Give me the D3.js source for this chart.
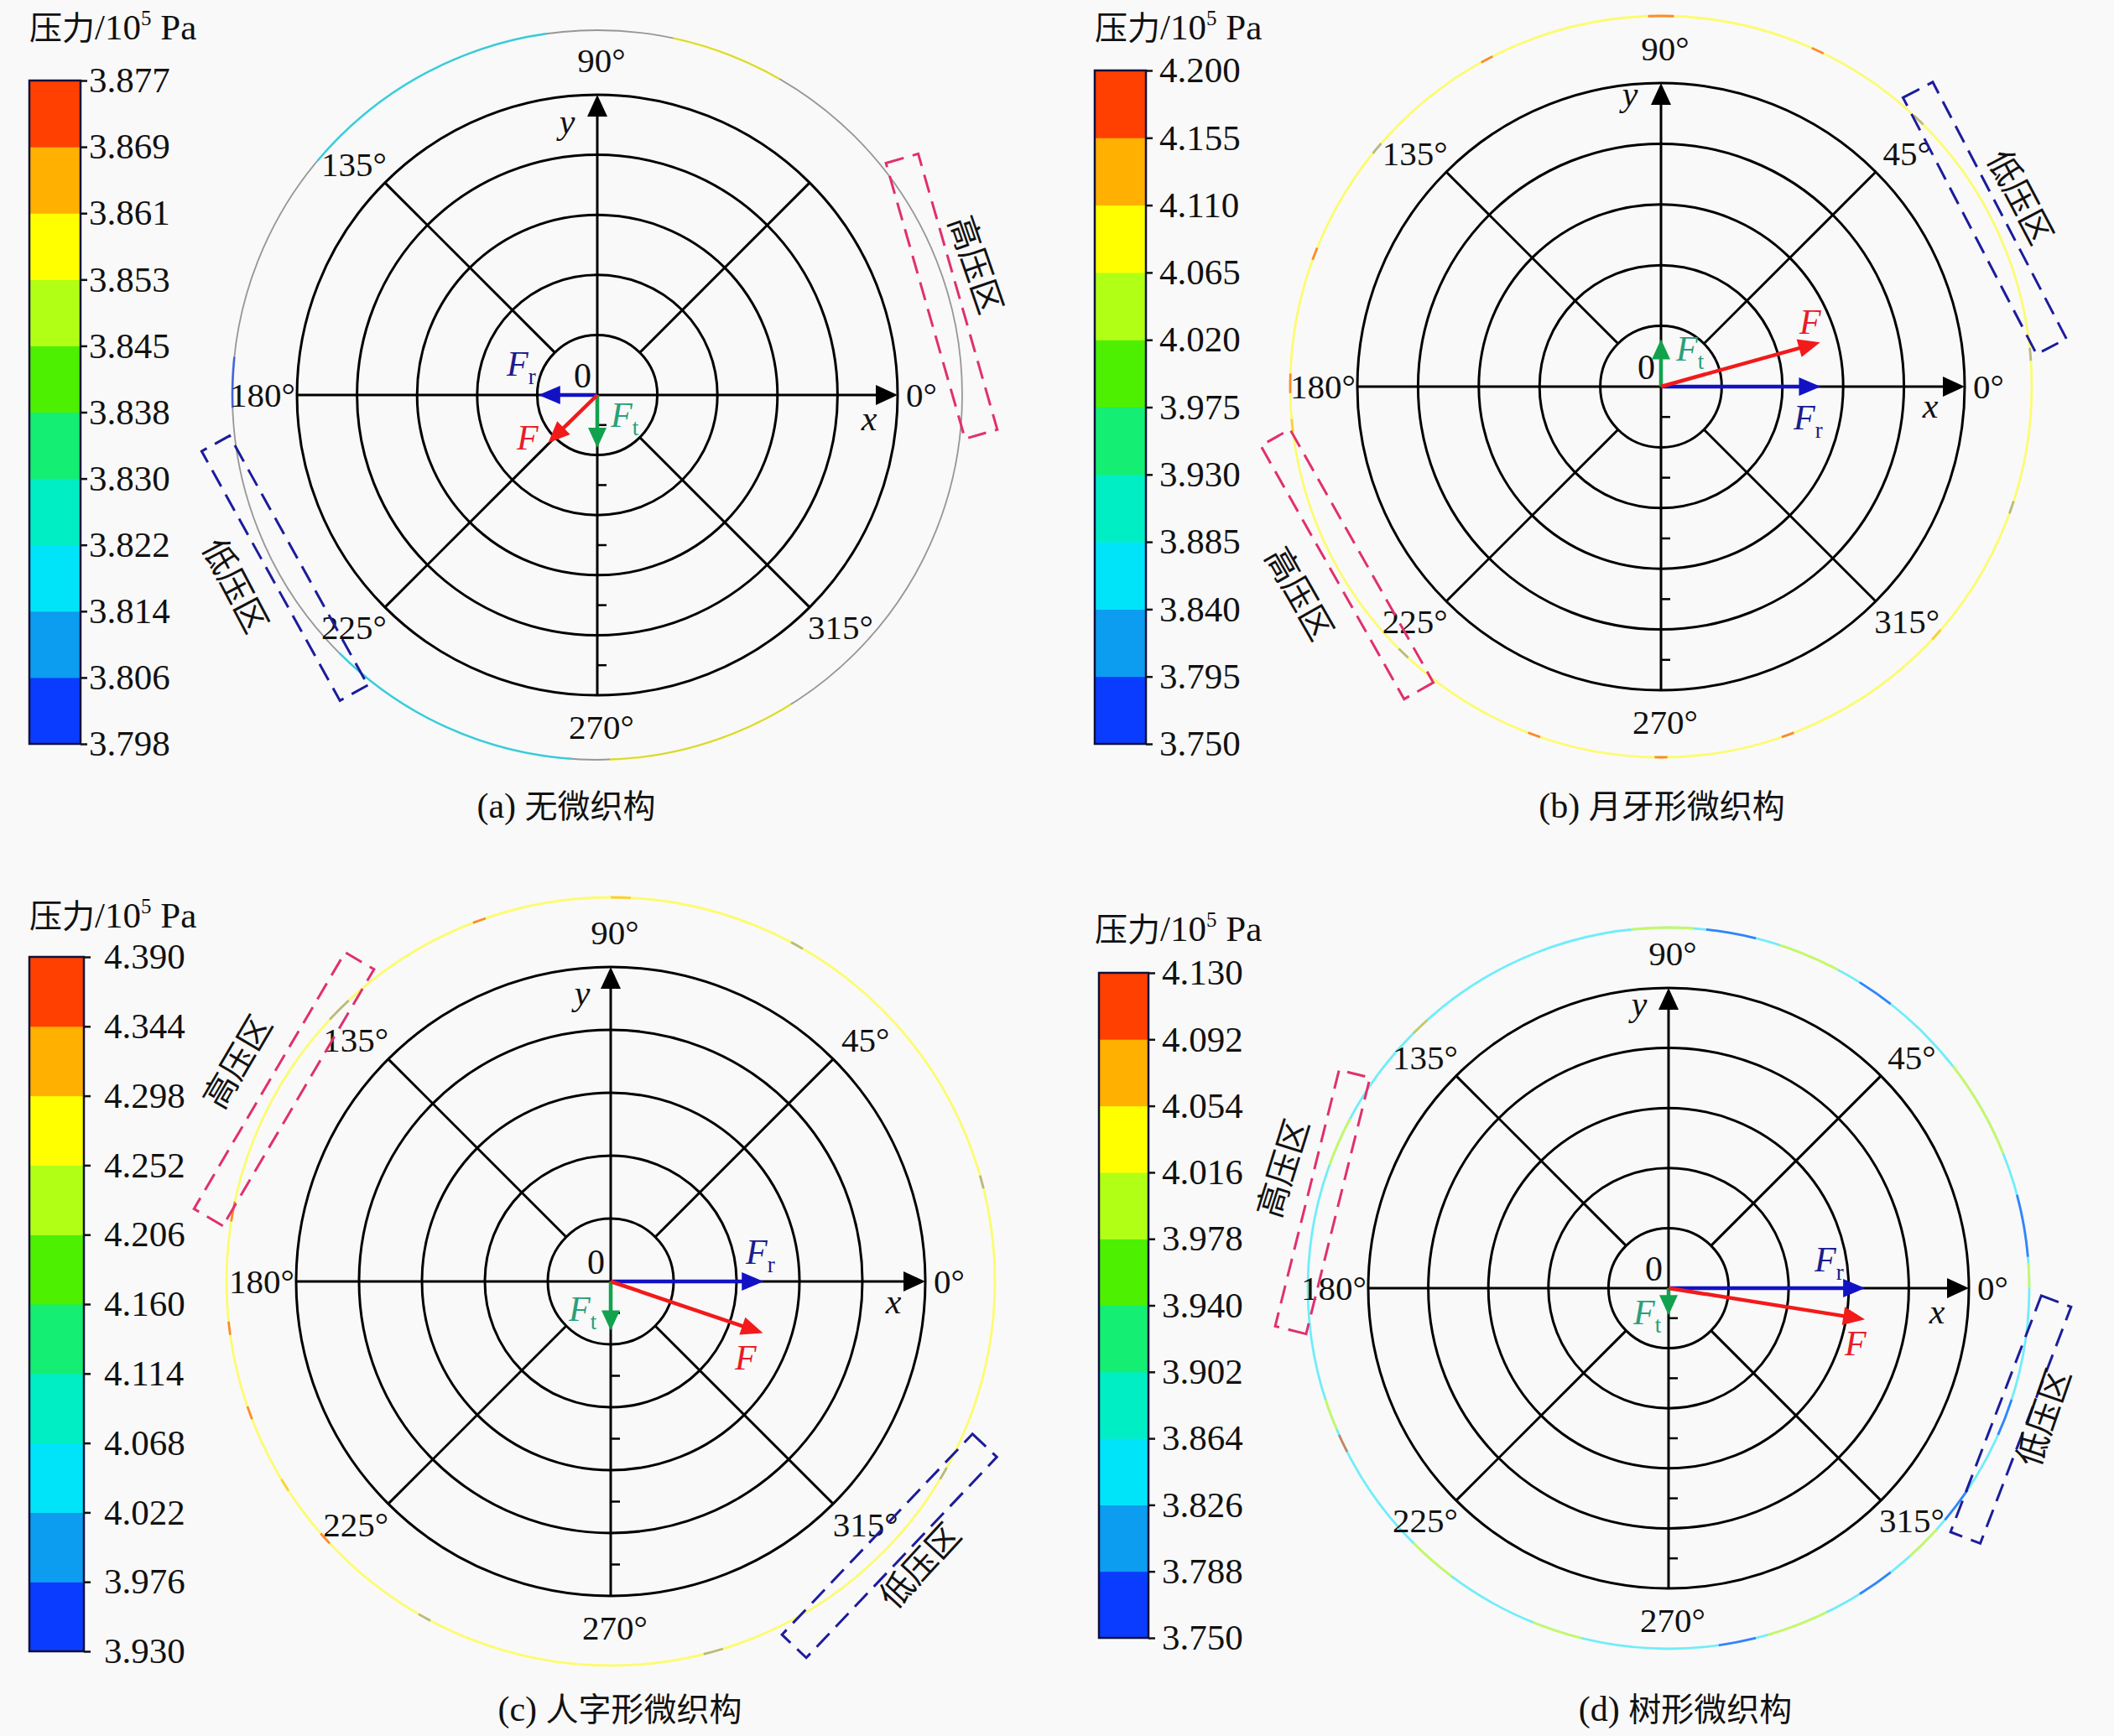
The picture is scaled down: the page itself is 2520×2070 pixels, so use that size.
<!DOCTYPE html>
<html>
<head>
<meta charset="utf-8">
<script src="https://cdn.jsdelivr.net/npm/d3@7"></script>
<style>
body { margin: 0; background: #f9f9f9; }
svg { display: block; }
</style>
</head>
<body>
<svg id="chart" width="2520" height="2070"></svg>
<script>
// colour bands of the pressure scale, lowest to highest
const bandColors = ["#0a3cff", "#0c9cf0", "#00e4fa", "#00eec4", "#14ee72", "#4cf000", "#b2ff16", "#ffff00", "#ffb000", "#ff4000"];

// colour bar labels (bottom -> top)
const ticksA = ["3.798", "3.806", "3.814", "3.822", "3.830", "3.838", "3.845", "3.853", "3.861", "3.869", "3.877"];
const ticksB = ["3.750", "3.795", "3.840", "3.885", "3.930", "3.975", "4.020", "4.065", "4.110", "4.155", "4.200"];
const ticksC = ["3.930", "3.976", "4.022", "4.068", "4.114", "4.160", "4.206", "4.252", "4.298", "4.344", "4.390"];
const ticksD = ["3.750", "3.788", "3.826", "3.864", "3.902", "3.940", "3.978", "4.016", "4.054", "4.092", "4.130"];

const captions = ["(a) 无微织构", "(b) 月牙形微织构", "(c) 人字形微织构", "(d) 树形微织构"];

// force vectors in grid-ring units (x, y), one entry per panel
const vecF  = [[-0.82, -0.80], [2.62, 0.73], [2.42, -0.82], [3.27, -0.52]];
const vecFr = [[-0.98, 0], [2.63, 0], [2.43, 0], [3.27, 0]];
const vecFt = [[0, -0.88], [0, 0.78], [0, -0.78], [0, -0.45]];

// angle labels
const angles = [0, 45, 90, 135, 180, 225, 270, 315];

// pressure ring along the rim: base colour index, then [fromDeg, toDeg, colourIndex] (-1 = grey)
const ringBase = [-1, 7, 7, 2];
const ringA = [[60, 78, 7], [98, 140, 2], [174, 182, 0], [225, 266, 2], [272, 302, 7]];
const ringB = [[4, 6, -1], [45, 47, -1], [64, 66, 9], [88, 92, 9], [117, 119, 9], [139, 141, -1], [158, 160, 9],
  [178, 181, 9], [185, 187, 8], [225, 227, -1], [249, 251, 9], [269, 271, 9], [289, 291, 9], [317, 319, 8], [340, 342, -1]];
const ringC = [[14, 16, -1], [60, 62, -1], [87, 90, 8], [109, 111, 9], [133, 137, -1], [168, 171, 9], [186, 188, 9],
  [199, 201, 9], [211, 213, 8], [221, 223, 9], [240, 242, -1], [284, 287, -1], [329, 331, -1]];
const ringD = [[0, 4, 7], [5, 15, 0], [22, 38, 7], [52, 58, 0], [62, 72, 7], [76, 84, 0], [86, 96, 7], [132, 135, 8],
  [152, 160, 7], [198, 203, 7], [204, 207, 9], [225, 233, 7], [248, 256, 7], [278, 284, 0], [286, 296, 7],
  [302, 308, 0], [312, 318, 7], [320, 326, 0], [336, 342, 0]];

// marked pressure zones: [angleDeg, text, kind]
const zonesA = [[16, "高压区", "high"], [209, "低压区", "low"]];
const zonesB = [[27.5, "低压区", "low"], [209.5, "高压区", "high"]];
const zonesC = [[149.5, "高压区", "high"], [316.5, "低压区", "low"]];
const zonesD = [[166, "高压区", "high"], [339, "低压区", "low"]];

const serif = "'Liberation Serif', 'Times New Roman', serif";
const cjk = "'Liberation Serif', 'Noto Sans CJK SC', serif";

const panels = [
  { ticks: ticksA, ring: ringA, zones: zonesA, cx: 712, cy: 471, r5: 358, ringR: 435, hide: [45],
    bar: { x: 35, w: 61, top: 96, bottom: 887, pad: 2 }, title: [35, 47], cap: [675, 975],
    box: [[427, 342, 40, 480, 19], [426, 340, 38, 485, 207.8]],
    lab: { y: [-36, -312], x: [324, 42], F: [-96, 65], Fr: [-108, -23], Ft: [16, 38] } },
  { ticks: ticksB, ring: ringB, zones: zonesB, cx: 1980, cy: 461, r5: 362, ringR: 442, hide: [],
    bar: { x: 1305, w: 61, top: 84, bottom: 887, pad: 8 }, title: [1305, 47], cap: [1981, 975],
    box: [[435, 345, 40, 487, 27.8], [430, 347, 40, 494, 209.8]],
    lab: { y: [-37, -335], x: [321, 37], F: [165, -63], Fr: [158, 51], Ft: [18, -31] } },
  { ticks: ticksC, ring: ringC, zones: zonesC, cx: 728, cy: 1528, r5: 375, ringR: 458, hide: [],
    bar: { x: 35, w: 65, top: 1141, bottom: 1969, pad: 16 }, title: [35, 1106], cap: [739, 2052],
    box: [[452, 355, 40, 519, 149.5], [458, 330, 40, 498, 317.4]],
    lab: { y: [-34, -330], x: [337, 38], F: [148, 105], Fr: [161, -21], Ft: [-50, 47] } },
  { ticks: ticksD, ring: ringD, zones: zonesD, cx: 1989, cy: 1536, r5: 358, ringR: 430, hide: [],
    bar: { x: 1310, w: 59, top: 1160, bottom: 1953, pad: 8 }, title: [1305, 1122], cap: [2009, 2052],
    box: [[425, 315, 38, 484, 162.7], [437, 302, 38, 470, 341]],
    lab: { y: [-35, -325], x: [320, 42], F: [210, 80], Fr: [174, -20], Ft: [-42, 43] } }
];

const svg = d3.select("#chart");
svg.append("rect").attr("width", 2520).attr("height", 2070).attr("fill", "#f9f9f9");

function colorOf(k) {
  return k < 0 ? "#8c8c8c" : bandColors[k];
}

function arrow(sel, x1, y1, x2, y2, color, w, hl, hw) {
  let a = Math.atan2(y2 - y1, x2 - x1);
  let bx = x2 - hl * Math.cos(a), by = y2 - hl * Math.sin(a);
  sel.append("line")
    .attr("x1", x1).attr("y1", y1)
    .attr("x2", bx + 3 * Math.cos(a)).attr("y2", by + 3 * Math.sin(a))
    .attr("stroke", color).attr("stroke-width", w);
  let px = -Math.sin(a) * hw / 2, py = Math.cos(a) * hw / 2;
  sel.append("path")
    .attr("d", "M" + x2 + "," + y2 + "L" + (bx + px) + "," + (by + py) + "L" + (bx - px) + "," + (by - py) + "Z")
    .attr("fill", color);
}

function forceLabel(sel, pos, sub, color) {
  let t = sel.append("text").attr("x", pos[0]).attr("y", pos[1])
    .attr("font-family", serif).attr("font-size", 42).attr("fill", color);
  t.append("tspan").attr("font-style", "italic").text("F");
  if (sub) {
    t.append("tspan").attr("font-size", 27).attr("dy", 10).text(sub);
  }
}

function drawPanel(p, i) {
  let g = svg.append("g");

  // colour bar
  let cb = d3.scalePoint().domain(p.ticks).range([p.bar.bottom, p.bar.top]);
  g.selectAll("rect.band")
    .data(d3.pairs(p.ticks))
    .join("rect")
    .attr("class", "band")
    .attr("x", p.bar.x).attr("width", p.bar.w)
    .attr("y", d => cb(d[1]))
    .attr("height", d => cb(d[0]) - cb(d[1]) + 0.5)
    .attr("fill", (d, k) => bandColors[k]);
  g.append("rect")
    .attr("x", p.bar.x).attr("y", p.bar.top)
    .attr("width", p.bar.w).attr("height", p.bar.bottom - p.bar.top)
    .attr("fill", "none").attr("stroke", "#10103a").attr("stroke-width", 2.5);

  let ax = g.append("g")
    .attr("transform", "translate(" + (p.bar.x + p.bar.w) + ",0)")
    .call(d3.axisRight(cb).tickSize(8).tickPadding(p.bar.pad));
  ax.select(".domain").remove();
  ax.attr("font-size", 43).attr("font-family", serif);
  ax.selectAll("line").attr("stroke", "#111").attr("stroke-width", 2.5);
  ax.selectAll("text").attr("fill", "#111");

  // title
  let tt = g.append("text").attr("x", p.title[0]).attr("y", p.title[1])
    .attr("font-family", serif).attr("font-size", 43).attr("fill", "#111");
  tt.append("tspan").attr("font-family", "'Noto Sans CJK SC', sans-serif").attr("font-size", 39).text("压力");
  tt.append("tspan").text("/10");
  tt.append("tspan").attr("font-size", 25).attr("dy", -17).text("5");
  tt.append("tspan").attr("dy", 17).text(" Pa");

  // polar grid
  let pg = g.append("g").attr("transform", "translate(" + p.cx + "," + p.cy + ")");
  let rs = d3.scaleLinear().domain([0, 5]).range([0, p.r5]);
  let rad = d => d * Math.PI / 180;

  // pressure ring
  let arc = d3.arc().innerRadius(p.ringR - 1.4).outerRadius(p.ringR + 1.4);
  pg.append("circle").attr("r", p.ringR).attr("fill", "none")
    .attr("stroke", colorOf(ringBase[i])).attr("stroke-width", ringBase[i] < 0 ? 1.8 : 2.8)
    .attr("stroke-opacity", ringBase[i] < 0 ? 0.9 : 0.55);
  pg.selectAll("path.seg")
    .data(p.ring)
    .join("path")
    .attr("class", "seg")
    .attr("d", d => arc({ startAngle: rad(90 - d[1]), endAngle: rad(90 - d[0]) }))
    .attr("fill", d => colorOf(d[2]))
    .attr("fill-opacity", 0.6);

  pg.selectAll("circle.grid")
    .data(d3.range(1, 6))
    .join("circle")
    .attr("class", "grid")
    .attr("r", d => rs(d))
    .attr("fill", "none").attr("stroke", "#000").attr("stroke-width", 3);

  pg.selectAll("line.spoke")
    .data([45, 135, 225, 315])
    .join("line")
    .attr("class", "spoke")
    .attr("x1", d => rs(1) * Math.cos(rad(d))).attr("y1", d => -rs(1) * Math.sin(rad(d)))
    .attr("x2", d => rs(5) * Math.cos(rad(d))).attr("y2", d => -rs(5) * Math.sin(rad(d)))
    .attr("stroke", "#000").attr("stroke-width", 3);

  // axes
  pg.append("line").attr("x1", -rs(5)).attr("x2", rs(5) - 20).attr("y1", 0).attr("y2", 0)
    .attr("stroke", "#000").attr("stroke-width", 3);
  pg.append("line").attr("y1", rs(5)).attr("y2", -rs(5) + 20).attr("x1", 0).attr("x2", 0)
    .attr("stroke", "#000").attr("stroke-width", 3);
  arrow(pg, 0, 0, rs(5), 0, "#000", 0, 26, 24);
  arrow(pg, 0, 0, 0, -rs(5), "#000", 0, 26, 24);

  pg.selectAll("line.minor")
    .data(d3.range(0.5, 5, 1))
    .join("line")
    .attr("class", "minor")
    .attr("x1", 0).attr("x2", 11)
    .attr("y1", d => rs(d)).attr("y2", d => rs(d))
    .attr("stroke", "#000").attr("stroke-width", 2.5);

  // angle labels
  pg.selectAll("text.ang")
    .data(angles.filter(a => p.hide.indexOf(a) < 0))
    .join("text")
    .attr("class", "ang")
    .attr("font-family", serif).attr("font-size", 41).attr("fill", "#111")
    .attr("text-anchor", d => d === 0 ? "start" : d === 180 ? "end" : "middle")
    .attr("x", d => {
      if (d === 0) return rs(5) + 10;
      if (d === 180) return -rs(5) - 2;
      if (d === 90 || d === 270) return 5;
      return Math.sign(Math.cos(rad(d))) * rs(5) * 0.81;
    })
    .attr("y", d => {
      if (d === 0 || d === 180) return 14;
      if (d === 90) return -rs(5) - 27;
      if (d === 270) return rs(5) + 52;
      return -Math.sign(Math.sin(rad(d))) * rs(5) * 0.77 + 15;
    })
    .text(d => d + "°");

  pg.append("text").attr("x", -7).attr("y", -9).attr("text-anchor", "end")
    .attr("font-family", serif).attr("font-size", 42).attr("fill", "#111").text("0");
  pg.append("text").attr("x", p.lab.x[0]).attr("y", p.lab.x[1]).attr("text-anchor", "middle")
    .attr("font-family", serif).attr("font-style", "italic").attr("font-size", 42).attr("fill", "#111").text("x");
  pg.append("text").attr("x", p.lab.y[0]).attr("y", p.lab.y[1]).attr("text-anchor", "middle")
    .attr("font-family", serif).attr("font-style", "italic").attr("font-size", 42).attr("fill", "#111").text("y");

  // force vectors
  let ft = vecFt[i], fr = vecFr[i], f = vecF[i];
  arrow(pg, 0, 0, rs(ft[0]), -rs(ft[1]), "#12a24e", 4.5, 24, 22);
  arrow(pg, 0, 0, rs(fr[0]), -rs(fr[1]), "#1212c4", 4.5, 26, 22);
  arrow(pg, 0, 0, rs(f[0]), -rs(f[1]), "#f21a1a", 4.5, 26, 22);
  forceLabel(pg, p.lab.F, null, "#e81c28");
  forceLabel(pg, p.lab.Fr, "r", "#1c1c8c");
  forceLabel(pg, p.lab.Ft, "t", "#28a07a");

  // pressure zones
  p.zones.forEach((z, k) => {
    let b = p.box[k];
    let col = z[2] === "high" ? "#e0306e" : "#1c1c9c";
    pg.append("rect")
      .attr("transform", "rotate(" + (-z[0]) + ") translate(" + b[0] + ",0)")
      .attr("x", -b[2] / 2).attr("y", -b[1] / 2)
      .attr("width", b[2]).attr("height", b[1])
      .attr("fill", "none").attr("stroke", col).attr("stroke-width", 3)
      .attr("stroke-dasharray", "22,11");
    let la = b[4];
    let rot = 90 - la;
    while (rot > 90) rot -= 180;
    while (rot <= -90) rot += 180;
    pg.append("text")
      .attr("transform", "translate(" + (b[3] * Math.cos(rad(la))) + "," + (-b[3] * Math.sin(rad(la))) + ") rotate(" + rot + ")")
      .attr("text-anchor", "middle").attr("dominant-baseline", "central")
      .attr("font-family", "'Noto Sans CJK SC', sans-serif").attr("font-size", 40).attr("fill", "#111")
      .text(z[1]);
  });

  // caption
  let ct = g.append("text").attr("x", p.cap[0]).attr("y", p.cap[1]).attr("text-anchor", "middle")
    .attr("font-family", serif).attr("font-size", 42).attr("fill", "#111");
  let parts = captions[i].split(" ");
  ct.append("tspan").text(parts[0] + " ");
  ct.append("tspan").attr("font-family", "'Noto Sans CJK SC', sans-serif").attr("font-size", 39).text(parts[1]);
}

panels.forEach(drawPanel);
</script>
</body>
</html>
